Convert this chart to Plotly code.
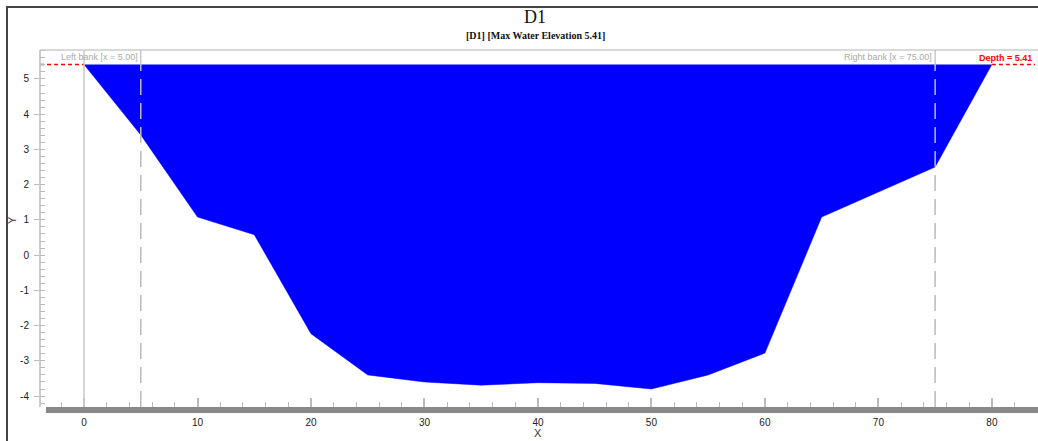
import plotly.graph_objects as go

# ---- data ----
station_x = [0, 5, 10, 15, 20, 25, 30, 35, 40, 45, 50, 55, 60, 65, 75, 80]
bed_y = [5.41, 3.41, 1.08, 0.58, -2.23, -3.40, -3.60, -3.69, -3.62, -3.64, -3.80, -3.40, -2.78, 1.08, 2.50, 5.41]
water_elev = 5.41
left_bank = 5.0
right_bank = 75.0
x_range = [-3.88, 83.8]
y_range = [-4.31, 5.82]
y_tick_vals = [-4, -3, -2, -1, 0, 1, 2, 3, 4, 5]
y_tick_text = ["-4", "-3", "-2", "-1", "0", "1", "2", "3", "4", "5"]

W, H = 1038, 441
L, R, T, B = 40, 1035, 50, 407
PW, PH = R - L, B - T


def px(xp):
    return (xp - L) / PW


def py(yp):
    return (B - yp) / PH


fig = go.Figure()

# water body
fig.add_trace(go.Scatter(
    x=station_x, y=bed_y, fill="toself", fillcolor="#0000FF",
    mode="lines", line=dict(color="#0000FF", width=0.5),
    hoverinfo="skip", showlegend=False))

# red dashed water level extensions
fig.add_trace(go.Scatter(x=[x_range[0], station_x[0]], y=[water_elev, water_elev],
                         mode="lines", line=dict(color="#FF0000", width=1.5, dash="4px,3px"),
                         showlegend=False, hoverinfo="skip"))
fig.add_trace(go.Scatter(x=[station_x[-1], x_range[1]], y=[water_elev, water_elev],
                         mode="lines", line=dict(color="#FF0000", width=1.5, dash="4px,3px"),
                         showlegend=False, hoverinfo="skip"))

shapes = []
# outer frame
shapes.append(dict(type="rect", xref="paper", yref="paper",
                   x0=px(7), x1=px(1060), y0=py(460), y1=py(7),
                   line=dict(color="#444444", width=2), fillcolor="rgba(0,0,0,0)", layer="below"))
# top border of plot
shapes.append(dict(type="line", xref="paper", yref="paper", x0=0, x1=px(1040), y0=1, y1=1,
                   line=dict(color="#CCCCCC", width=1.5)))
# left axis line
shapes.append(dict(type="line", xref="paper", yref="paper", x0=0, x1=0, y0=0, y1=1,
                   line=dict(color="#BBBBBB", width=1.5)))
# x=0 vertical line
shapes.append(dict(type="line", xref="x", yref="paper", x0=0, x1=0, y0=0, y1=1,
                   line=dict(color="#C8C8C8", width=1.5)))
# bank dashed lines
for bx in (left_bank, right_bank):
    shapes.append(dict(type="line", xref="x", yref="y", x0=bx, x1=bx, y0=y_range[0], y1=water_elev,
                       line=dict(color="#BBBBBB", width=1.5, dash="16px,8px")))
    shapes.append(dict(type="line", xref="x", yref="paper", x0=bx, x1=bx, y0=py(66), y1=1,
                       line=dict(color="#BBBBBB", width=1.2)))
# thick x-axis bar
shapes.append(dict(type="rect", xref="paper", yref="paper", x0=px(46), x1=px(1040),
                   y0=py(413), y1=py(407), line=dict(width=0), fillcolor="#888888"))

annotations = [
    dict(text="D1", xref="paper", yref="paper", x=px(535), y=py(17), showarrow=False,
         font=dict(family="Liberation Serif", size=18, color="#111111"), xanchor="center", yanchor="middle"),
    dict(text="<b>[D1] [Max Water Elevation 5.41]</b>", xref="paper", yref="paper", x=px(535), y=py(36),
         showarrow=False, font=dict(family="Liberation Serif", size=10, color="#111111"),
         xanchor="center", yanchor="middle"),
    dict(text="Left bank [x = 5.00]", xref="x", yref="paper", x=left_bank, y=py(57), showarrow=False,
         font=dict(family="Arial", size=9, color="#AAAAAA"), xanchor="right", yanchor="middle", xshift=-1),
    dict(text="Right bank [x = 75.00]", xref="x", yref="paper", x=right_bank, y=py(57), showarrow=False,
         font=dict(family="Arial", size=9, color="#AAAAAA"), xanchor="right", yanchor="middle", xshift=-1),
    dict(text="<b>Depth = 5.41</b>", xref="paper", yref="paper", x=px(1034), y=py(58), showarrow=False,
         font=dict(family="Arial", size=9, color="#FF0000"), xanchor="right", yanchor="middle"),
    dict(text="X", xref="paper", yref="paper", x=px(538), y=py(433), showarrow=False,
         font=dict(family="Arial", size=11, color="#333333"), xanchor="center", yanchor="middle"),
    dict(text="Y", xref="paper", yref="paper", x=px(12), y=py(220), showarrow=False, textangle=-90,
         font=dict(family="Arial", size=11, color="#333333"), xanchor="center", yanchor="middle"),
]

fig.update_layout(
    width=W, height=H,
    margin=dict(l=L, r=W - R, t=T, b=H - B, pad=0),
    paper_bgcolor="white", plot_bgcolor="white",
    shapes=shapes, annotations=annotations,
    showlegend=False,
    xaxis=dict(range=x_range, showgrid=False, zeroline=False, showline=False,
               tickmode="linear", tick0=0, dtick=10,
               ticks="inside", ticklen=9, tickwidth=1.5, tickcolor="#BBBBBB",
               minor=dict(tickmode="linear", tick0=0, dtick=2, ticks="inside", ticklen=5,
                          tickwidth=1.2, tickcolor="#BBBBBB", showgrid=False),
               tickfont=dict(family="Arial", size=10, color="#222222"),
               ticklabelstandoff=8),
    yaxis=dict(range=y_range, showgrid=False, zeroline=False, showline=False,
               tickmode="array", tickvals=y_tick_vals, ticktext=y_tick_text,
               ticks="outside", ticklen=5, tickwidth=1.2, tickcolor="#BBBBBB",
               minor=dict(tickmode="linear", tick0=0, dtick=0.2, ticks="inside", ticklen=5,
                          tickwidth=1, tickcolor="#BBBBBB", showgrid=False),
               tickfont=dict(family="Arial", size=10, color="#222222"),
               ticklabelstandoff=3),
)

fig.write_html("out.html")
